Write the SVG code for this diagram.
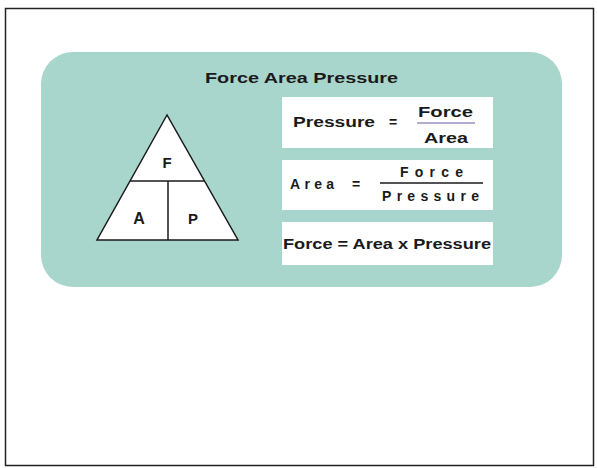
<svg xmlns="http://www.w3.org/2000/svg" width="597" height="468" viewBox="0 0 597 468">
<style>
.t{font-family:"Liberation Sans",Arial,sans-serif;font-weight:bold;fill:#1a1a1a}
.box{fill:#ffffff}
.ln{stroke:#1a1a1a;stroke-width:1.5;fill:none}
</style>
<rect x="0" y="0" width="597" height="468" fill="#ffffff"/>
<rect x="5.5" y="8.5" width="588" height="457" fill="none" stroke="#222" stroke-width="1.5"/>
<g id="panel">
<rect x="41" y="52" width="521" height="235" rx="32" ry="32" fill="#a8d5cc"/>
<text class="t" x="205" y="83" font-size="15" textLength="193" lengthAdjust="spacingAndGlyphs">Force Area Pressure</text>
</g>
<g id="triangle">
<polygon points="167,115 97,240 238,240" fill="#ffffff" stroke="#1a1a1a" stroke-width="1.5"/>
<line class="ln" x1="130" y1="181" x2="204" y2="181"/>
<line class="ln" x1="168" y1="181" x2="168" y2="240"/>
<text class="t" x="167" y="168" font-size="15" text-anchor="middle">F</text>
<text class="t" x="139" y="224" font-size="16" text-anchor="middle">A</text>
<text class="t" x="193" y="224" font-size="15" text-anchor="middle">P</text>
</g>
<g id="eq-pressure">
<rect class="box" x="282" y="97" width="211" height="51"/>
<text class="t" x="293" y="127" font-size="14" textLength="82" lengthAdjust="spacingAndGlyphs">Pressure</text>
<text class="t" x="389" y="127" font-size="14">=</text>
<text class="t" x="418" y="117" font-size="14" textLength="55" lengthAdjust="spacingAndGlyphs">Force</text>
<line x1="417" y1="123" x2="475" y2="123" stroke="#6a5aa0" stroke-width="1.2"/>
<text class="t" x="424" y="143" font-size="14" textLength="44" lengthAdjust="spacingAndGlyphs">Area</text>
</g>
<g id="eq-area">
<rect class="box" x="282" y="160" width="211" height="50"/>
<text class="t" x="290" y="189" font-size="14" textLength="44" lengthAdjust="spacing">Area</text>
<text class="t" x="352" y="189" font-size="14">=</text>
<text class="t" x="400" y="177" font-size="14" textLength="63" lengthAdjust="spacing">Force</text>
<line x1="380" y1="183" x2="483" y2="183" stroke="#1a1a1a" stroke-width="1.5"/>
<text class="t" x="382" y="201" font-size="14" textLength="97" lengthAdjust="spacing">Pressure</text>
</g>
<g id="eq-force">
<rect class="box" x="282" y="222" width="211" height="43"/>
<text class="t" x="283" y="249" font-size="14" textLength="208" lengthAdjust="spacingAndGlyphs">Force = Area x Pressure</text>
</g>
</svg>
